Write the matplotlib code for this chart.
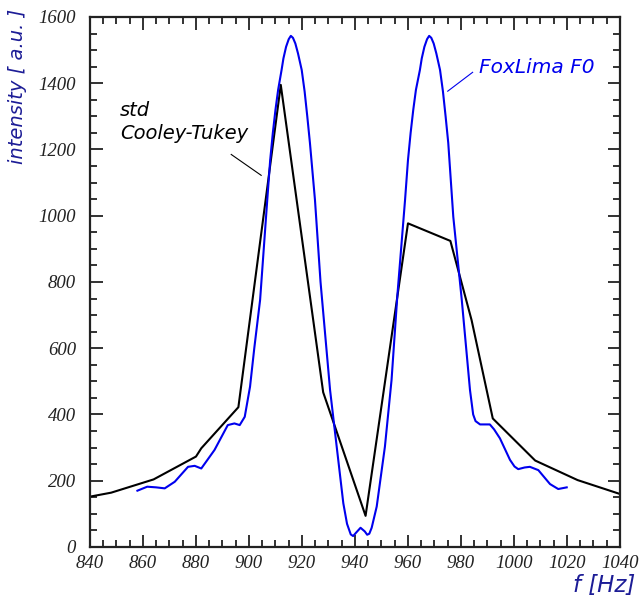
import matplotlib
matplotlib.use("Agg")
import matplotlib.pyplot as plt
from matplotlib.ticker import MultipleLocator

# std Cooley-Tukey spectrum (piecewise linear)
f_ct = [840, 848, 856, 864, 880, 882, 896, 912, 928, 944, 960, 976, 984, 992, 1008, 1024, 1040]
i_ct = [152, 164, 184, 204, 273, 298, 422, 1395, 467, 94, 977, 924, 685, 388, 261, 202, 160]

# FoxLima F0 spectrum
f_fl = [857.9, 861.6, 865, 868.2, 872, 877, 879.5, 882, 887, 892, 894.5, 896.5, 898.4,
        900.4, 902, 904.2, 906.9, 908, 909, 910, 911, 912.3, 913, 914, 915, 915.8, 916.6,
        917.5, 918.5, 919.9, 921, 922, 923, 924.9, 927, 930.6, 933.1, 935.6, 937, 938.4,
        939.3, 940.5, 942.1, 943.7, 944.6, 945.4, 946.3, 948.2, 951.3,
        953.8, 956, 958.9, 960, 961, 962, 963, 964.5, 965.2, 966.2, 967.2, 968, 968.8,
        969.7, 970.7, 972.1, 973.2, 974.2, 975.2, 977.1, 980.3, 983.4,
        984.6, 985.5, 987.2, 990.9, 992.5, 994.7, 998.5, 1000.2, 1001.6, 1004, 1006,
        1009.2, 1011.5, 1013.6, 1016.7, 1019.9]
i_fl = [170, 182, 180, 177, 197, 242, 245, 237, 293, 368, 373, 368, 393,
        484, 600, 746, 1048, 1168, 1250, 1320, 1380, 1440, 1475, 1510, 1533, 1543, 1537,
        1520, 1490, 1440, 1375, 1300, 1220, 1048, 800, 474, 303, 132, 70, 38,
        33, 44, 58, 47, 37, 40, 58, 122, 303,
        504, 760, 1048, 1168, 1250, 1320, 1380, 1440, 1475, 1510, 1533, 1543, 1537,
        1520, 1490, 1440, 1375, 1300, 1220, 997, 746, 474,
        400, 380, 370, 370, 355, 328, 263, 243, 235, 240, 242,
        232, 210, 190, 175, 180]

navy = "#1c1c96"
blue = "#0000ee"

fig = plt.figure(figsize=(6.4, 5.98), dpi=100)
ax = fig.add_axes([0.1406, 0.0853, 0.8281, 0.8863])

ax.plot(f_ct, i_ct, color="black", lw=1.5)
ax.plot(f_fl, i_fl, color=blue, lw=1.5)

ax.set_xlim(840, 1040)
ax.set_ylim(0, 1600)
ax.xaxis.set_major_locator(MultipleLocator(20))
ax.xaxis.set_minor_locator(MultipleLocator(5))
ax.yaxis.set_major_locator(MultipleLocator(200))
ax.yaxis.set_minor_locator(MultipleLocator(50))
ax.tick_params(which="both", direction="in", top=True, right=True, width=1.3, colors="#222222")
ax.tick_params(which="major", length=9)
ax.tick_params(which="minor", length=5)
ax.tick_params(axis="x", pad=6)
ax.tick_params(axis="y", pad=10)
for s in ax.spines.values():
    s.set_linewidth(1.6)
    s.set_color("#222222")
for lab in ax.get_xticklabels() + ax.get_yticklabels():
    lab.set_fontfamily("Liberation Serif")
    lab.set_fontstyle("italic")
    lab.set_fontsize(13.5)

sans_it = dict(family="DejaVu Sans", style="italic")
fig.text(0.027, 0.855, "intensity [ a.u. ]", rotation=90, ha="center", va="center",
         color=navy, fontsize=14, **sans_it)
fig.text(0.992, 0.01, "f [Hz]", ha="right", va="baseline", color=navy, fontsize=16.5, **sans_it)

ax.text(851.3, 1282, "std\nCooley-Tukey", ha="left", va="center", fontsize=14,
        color="black", linespacing=1.25, **sans_it)
ax.plot([893.3, 904.6], [1185, 1122], color="black", lw=0.8)

ax.text(986.8, 1446, "FoxLima F0", ha="left", va="center", fontsize=14.5, color=blue, **sans_it)
ax.plot([984.4, 975], [1433, 1376], color=blue, lw=0.8)

fig.savefig("out.png", dpi=100)
